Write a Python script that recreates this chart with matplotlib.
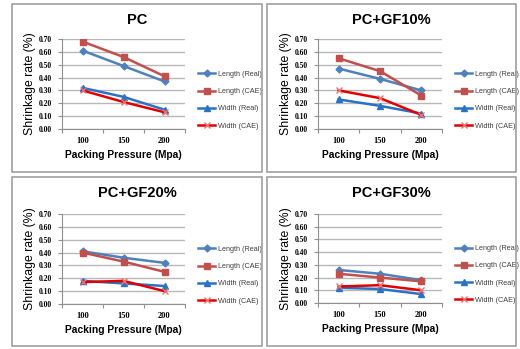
import numpy as np
import matplotlib.pyplot as plt
from matplotlib.patches import Rectangle

# ── data ──────────────────────────────
pressure = ['100', '150', '200']
titles = ['PC', 'PC+GF10%', 'PC+GF20%', 'PC+GF30%']
series_names = ['Length (Real)', 'Length (CAE)', 'Width (Real)', 'Width (CAE)']

length_real = [[0.61, 0.49, 0.37], [0.47, 0.39, 0.30], [0.41, 0.36, 0.32], [0.26, 0.23, 0.18]]
length_cae  = [[0.68, 0.56, 0.41], [0.55, 0.45, 0.26], [0.40, 0.33, 0.25], [0.23, 0.20, 0.17]]
width_real  = [[0.32, 0.25, 0.15], [0.23, 0.18, 0.12], [0.18, 0.16, 0.14], [0.12, 0.11, 0.07]]
width_cae   = [[0.30, 0.21, 0.13], [0.30, 0.24, 0.11], [0.17, 0.18, 0.10], [0.13, 0.14, 0.10]]

plt.rcParams['font.family'] = ['Liberation Sans', 'DejaVu Sans']

# ── styles ────────────────────────────
styles = [
    dict(color='#4F81BD', marker='D', ms=3.5, mfc='#4F81BD', mec='#4F81BD'),
    dict(color='#C0504D', marker='s', ms=5, mfc='#C0504D', mec='#C0504D'),
    dict(color='#2A72C4', marker='^', ms=4.5, mfc='#2A72C4', mec='#2A72C4'),
    dict(color='#E00000', marker='x', ms=4.5, mfc='none', mec='#F07070', mew=1),
]

W, H = 520, 349
fig = plt.figure(figsize=(W/100, H/100), dpi=100)
fig.patch.set_facecolor('white')

def fx(px): return px / W
def fy(py): return 1 - py / H

# panel boxes (x0, y0, x1, y1) px  and axes (left, top, right, bottom) px
panels = [(12, 4, 262, 172), (267, 4, 516, 172), (12, 177, 262, 346), (267, 177, 516, 346)]
axes_px = [(62, 39, 185, 129), (318, 39, 442, 129), (62, 214, 185, 304), (318, 214, 442, 303)]

x = np.arange(3) + 0.5

for i in range(4):
    x0, y0, x1, y1 = panels[i]
    fig.patches.append(Rectangle((fx(x0), fy(y1)), fx(x1 - x0), (y1 - y0) / H,
                                 transform=fig.transFigure, fill=False,
                                 ec='#a0a0a0', lw=1.2))
    l, t, r, b = axes_px[i]
    aw, ah = r - l, b - t
    ax = fig.add_axes([fx(l), fy(b), fx(aw), ah / H])

    data = [length_real[i], length_cae[i], width_real[i], width_cae[i]]
    for name, vals, st in zip(series_names, data, styles):
        ax.plot(x, vals, lw=1.8, label=name, **st)

    ax.set_xlim(0, 3)
    ax.set_ylim(0, 0.7)
    ax.set_yticks(np.arange(0, 0.71, 0.1))
    ax.set_yticklabels([f'{v:.2f}' for v in np.arange(0, 0.71, 0.1)],
                       family='Liberation Serif', weight='bold', fontsize=5.5)
    ax.set_xticks([0, 1, 2, 3])
    ax.set_xticklabels([])
    ax.set_xticks(x, minor=True)
    ax.set_xticklabels(pressure, minor=True, family='Liberation Serif',
                       weight='bold', fontsize=6)
    ax.tick_params(axis='x', which='minor', length=0, pad=6)
    ax.tick_params(axis='x', which='major', length=3, color='#909090')
    ax.tick_params(axis='y', length=3, color='#909090', pad=4)
    ax.grid(axis='y', color='#b8b8b8', lw=1)
    ax.set_axisbelow(True)
    for s in ['top', 'right']:
        ax.spines[s].set_visible(False)
    for s in ['left', 'bottom']:
        ax.spines[s].set_color('#909090')

    ax.set_ylabel('Shrinkage rate (%)', fontsize=8.8)
    ax.yaxis.set_label_coords(-32 / aw, 0.5)
    ax.set_xlabel('Packing Pressure (Mpa)', fontsize=7.4, weight='bold')
    ax.xaxis.set_label_coords(0.5, -26 / ah)
    ax.xaxis.label.set_va('center')
    ax.yaxis.label.set_va('center')
    fig.text(fx((x0 + x1) / 2), fy(y0 + 16), titles[i], ha='center', va='center',
             fontsize=10.5, weight='bold')

    leg = ax.legend(loc='center left', bbox_to_anchor=(1 + 13 / aw, 0.32), frameon=False,
                    prop={'size': 5.2}, handlelength=2.4, labelspacing=1.42,
                    handletextpad=0.3, borderaxespad=0, borderpad=0)
    for txt in leg.get_texts():
        txt.set_color('#404040')

fig.savefig('out.png', dpi=100)
